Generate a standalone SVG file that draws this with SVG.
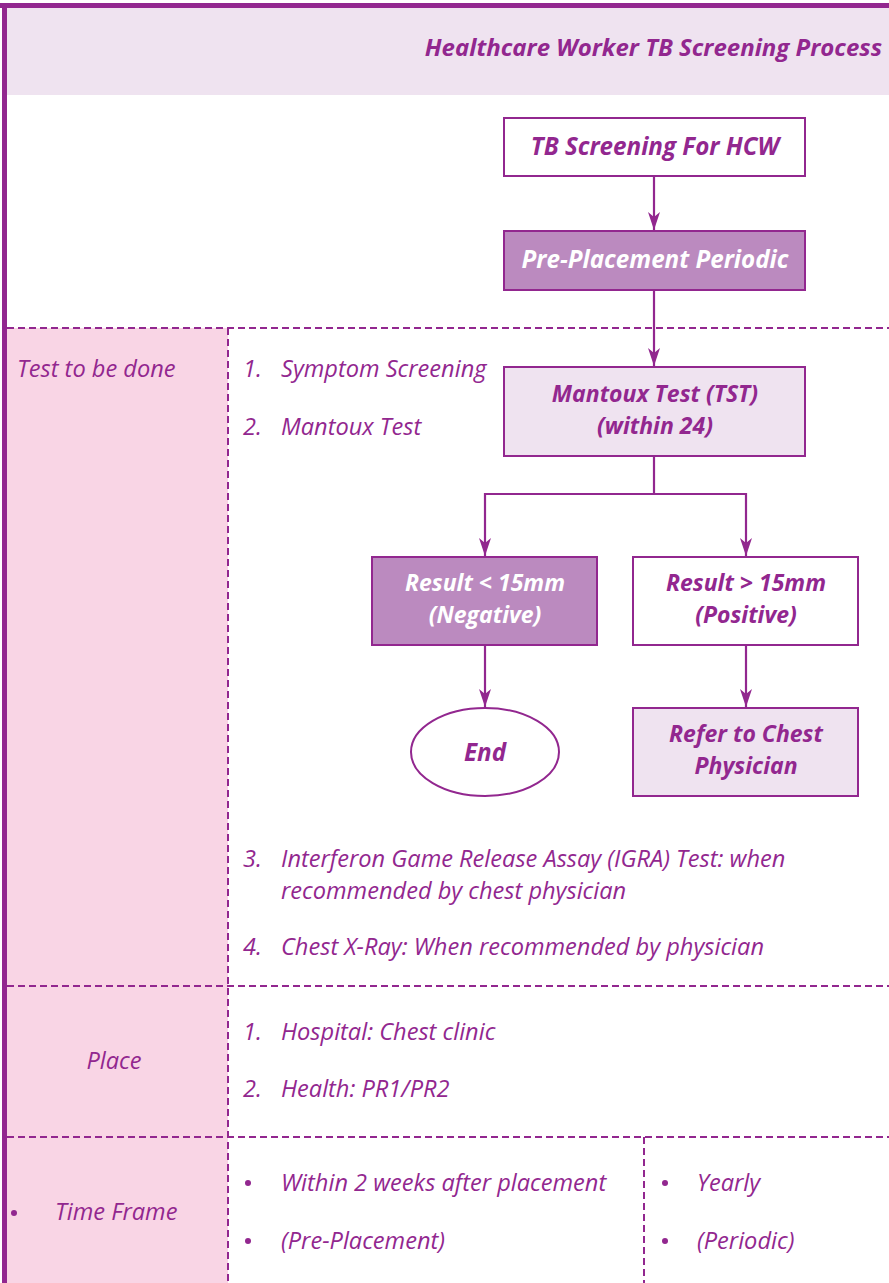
<svg xmlns="http://www.w3.org/2000/svg" width="889" height="1283" viewBox="0 0 889 1283">
<defs>
<marker id="arr" markerWidth="18" markerHeight="12" refX="18" refY="6" orient="auto-start-reverse" markerUnits="userSpaceOnUse" viewBox="0 0 18 12">
<path d="M0,0 L18,6 L0,12 L5,6 Z" fill="#92278f"/>
</marker>
</defs>
<style>
.dash{stroke:#92278f;stroke-width:2;stroke-dasharray:7 4;fill:none}
.box{stroke:#92278f;stroke-width:2}
.conn{stroke:#92278f;stroke-width:2.2;fill:none}
.nt{font-family:"Open Sans","Liberation Sans",sans-serif;font-style:italic;font-weight:bold;font-size:24.2px;text-anchor:middle;fill:#92278f}
.n2{font-size:23px}
.wt{fill:#ffffff}
.t{font-family:"Open Sans","Liberation Sans",sans-serif;font-style:italic;font-size:23.6px;fill:#92278f}
</style>
<rect x="0" y="0" width="889" height="1283" fill="#ffffff"/>
<!-- header -->
<rect x="5" y="6" width="884" height="89" fill="#efe3f0"/>
<rect x="0" y="3" width="889" height="5" fill="#92278f"/>
<text x="882" y="56" style="font-family:'Open Sans','Liberation Sans',sans-serif;font-style:italic;font-weight:bold;font-size:24px;fill:#92278f;text-anchor:end">Healthcare Worker TB Screening Process</text>
<!-- pink column -->
<rect x="5" y="328" width="223" height="955" fill="#f9d5e5"/>
<rect x="2" y="3" width="5" height="1280" fill="#92278f"/>
<!-- table lines -->
<g id="grid">
<line class="dash" x1="7" y1="328" x2="889" y2="328"/>
<line class="dash" x1="7" y1="986" x2="889" y2="986"/>
<line class="dash" x1="7" y1="1137" x2="889" y2="1137"/>
<line class="dash" x1="228" y1="328" x2="228" y2="1283"/>
<line class="dash" x1="644" y1="1137" x2="644" y2="1283"/>
</g>
<!-- connectors -->
<g id="connectors">
<line class="conn" x1="654" y1="176" x2="654" y2="230" marker-end="url(#arr)"/>
<line class="conn" x1="654" y1="290" x2="654" y2="366" marker-end="url(#arr)"/>
<polyline class="conn" points="654,456 654,494"/>
<polyline class="conn" points="485,556 485,494 746,494 746,556" marker-start="url(#arr)" marker-end="url(#arr)"/>
<line class="conn" x1="485" y1="645" x2="485" y2="707" marker-end="url(#arr)"/>
<line class="conn" x1="746" y1="645" x2="746" y2="707" marker-end="url(#arr)"/>
</g>
<!-- nodes -->
<g id="n-start">
<rect class="box" x="504" y="118" width="301" height="58" fill="#ffffff"/>
<text class="nt" x="655" y="155">TB Screening For HCW</text>
</g>
<g id="n-pre">
<rect class="box" x="504" y="231" width="301" height="59" fill="#bb8abf"/>
<text class="nt wt" x="655" y="268">Pre-Placement Periodic</text>
</g>
<g id="n-mantoux">
<rect class="box" x="504" y="367" width="301" height="89" fill="#efe3f0"/>
<text class="nt n2" x="655" y="402">Mantoux Test (TST)<tspan x="655" dy="31.5">(within 24)</tspan></text>
</g>
<g id="n-neg">
<rect class="box" x="372" y="557" width="225" height="88" fill="#bb8abf"/>
<text class="nt n2 wt" x="485" y="591">Result &lt; 15mm<tspan x="485" dy="31.5">(Negative)</tspan></text>
</g>
<g id="n-pos">
<rect class="box" x="633" y="557" width="225" height="88" fill="#ffffff"/>
<text class="nt n2" x="746" y="591">Result &gt; 15mm<tspan x="746" dy="31.5">(Positive)</tspan></text>
</g>
<g id="n-end">
<ellipse class="box" cx="485" cy="752" rx="74" ry="44" fill="#ffffff"/>
<text class="nt" x="485" y="761">End</text>
</g>
<g id="n-refer">
<rect class="box" x="633" y="708" width="225" height="88" fill="#efe3f0"/>
<text class="nt n2" x="746" y="742">Refer to Chest<tspan x="746" dy="31.5">Physician</tspan></text>
</g>
<!-- table texts -->
<g id="labels">
<text class="t" x="17" y="377">Test to be done</text>
<text class="t" x="243" y="377">1.</text><text class="t" x="281" y="377">Symptom Screening</text>
<text class="t" x="243" y="435">2.</text><text class="t" x="281" y="435">Mantoux Test</text>
<text class="t" x="243" y="867">3.</text><text class="t" x="281" y="867">Interferon Game Release Assay (IGRA) Test: when<tspan x="281" dy="32">recommended by chest physician</tspan></text>
<text class="t" x="243" y="955">4.</text><text class="t" x="281" y="955">Chest X-Ray: When recommended by physician</text>
<text class="t" x="114" y="1069" text-anchor="middle">Place</text>
<text class="t" x="243" y="1040">1.</text><text class="t" x="281" y="1040">Hospital: Chest clinic</text>
<text class="t" x="243" y="1097">2.</text><text class="t" x="281" y="1097">Health: PR1/PR2</text>
<circle cx="14" cy="1213" r="3" fill="#92278f"/><text class="t" x="55" y="1220">Time Frame</text>
<circle cx="248" cy="1183" r="3" fill="#92278f"/><text class="t" x="281" y="1191">Within 2 weeks after placement</text>
<circle cx="248" cy="1241" r="3" fill="#92278f"/><text class="t" x="281" y="1249">(Pre-Placement)</text>
<circle cx="665" cy="1183" r="3" fill="#92278f"/><text class="t" x="697" y="1191">Yearly</text>
<circle cx="665" cy="1241" r="3" fill="#92278f"/><text class="t" x="697" y="1249">(Periodic)</text>
</g>
</svg>
